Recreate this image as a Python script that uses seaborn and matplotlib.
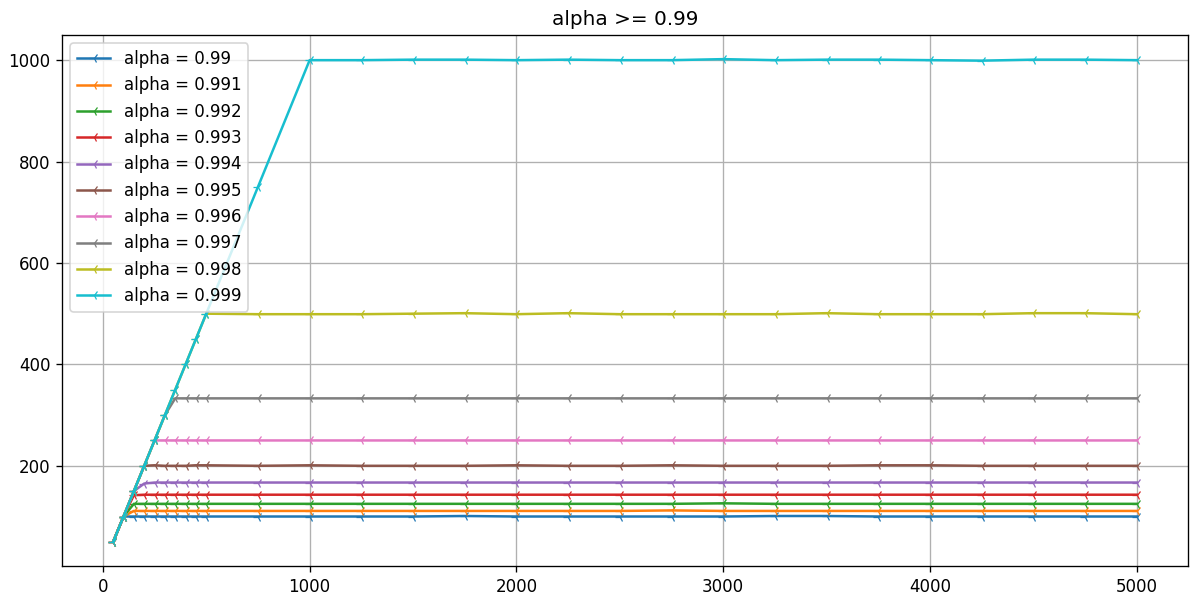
import pandas as pd
import seaborn as sns
import matplotlib.pyplot as plt

# eixo x (tamanho da janela)
x_vals = [50, 100, 150, 200, 250, 300, 350, 400, 450, 500,
          750, 1000, 1250, 1500, 1750, 2000, 2250, 2500, 2750, 3000,
          3250, 3500, 3750, 4000, 4250, 4500, 4750, 5000]

alphas = ['0.99', '0.991', '0.992', '0.993', '0.994',
          '0.995', '0.996', '0.997', '0.998', '0.999']

y_0990 = [50, 100, 100, 100, 100, 100, 100, 100, 100, 100,
          100, 100, 100, 100, 101, 100, 100, 100, 100, 100,
          101, 101, 100, 100, 100, 100, 100, 100]
y_0991 = [50, 100, 111, 111, 111, 111, 111, 111, 111, 111,
          111, 111, 111, 111, 111, 111, 111, 111, 112, 111,
          111, 111, 111, 111, 111, 111, 111, 111]
y_0992 = [50, 100, 125, 125, 125, 125, 125, 125, 125, 125,
          125, 125, 125, 125, 125, 125, 125, 125, 125, 126,
          125, 125, 125, 125, 125, 125, 125, 125]
y_0993 = [50, 100, 142, 143, 143, 143, 143, 143, 143, 143,
          143, 143, 143, 143, 143, 143, 143, 143, 143, 143,
          143, 143, 143, 143, 143, 143, 143, 143]
y_0994 = [50, 100, 150, 165, 167, 167, 167, 167, 167, 167,
          167, 167, 167, 167, 167, 167, 167, 167, 167, 167,
          167, 167, 167, 167, 167, 167, 167, 167]
y_0995 = [50, 100, 150, 200, 201, 200, 200, 200, 201, 201,
          200, 201, 200, 200, 200, 201, 200, 200, 201, 200,
          200, 200, 201, 201, 200, 200, 200, 200]
y_0996 = [50, 100, 150, 200, 250, 250, 250, 250, 250, 250,
          250, 250, 250, 250, 250, 250, 250, 250, 250, 250,
          250, 250, 250, 250, 250, 250, 250, 250]
y_0997 = [50, 100, 150, 200, 250, 300, 333, 333, 333, 333,
          333, 333, 333, 333, 333, 333, 333, 333, 333, 333,
          333, 333, 333, 333, 333, 333, 333, 333]
y_0998 = [50, 100, 150, 200, 250, 300, 350, 400, 450, 500,
          499, 499, 499, 500, 501, 499, 501, 499, 499, 499,
          499, 501, 499, 499, 499, 501, 501, 499]
y_0999 = [50, 100, 150, 200, 250, 300, 350, 400, 450, 500,
          750, 1000, 1000, 1001, 1001, 1000, 1001, 1000, 1000, 1002,
          1000, 1001, 1001, 1000, 999, 1001, 1001, 1000]

series = [y_0990, y_0991, y_0992, y_0993, y_0994,
          y_0995, y_0996, y_0997, y_0998, y_0999]

cores = sns.color_palette('tab10', 10)

fig, ax = plt.subplots(figsize=(1190/120, 597/120), dpi=120)
plt.subplots_adjust(left=62/1190, right=1188/1190, top=1-35/597, bottom=1-566/597)

for a, ys, c in zip(alphas, series, cores):
    sns.lineplot(x=x_vals, y=ys, ax=ax, color=c, marker='3',
                 label='alpha = ' + a, markeredgecolor=c)

ax.grid(True)
ax.legend(loc='upper left')
ax.set_title('alpha >= 0.99')

plt.savefig('out.png', dpi=120)
